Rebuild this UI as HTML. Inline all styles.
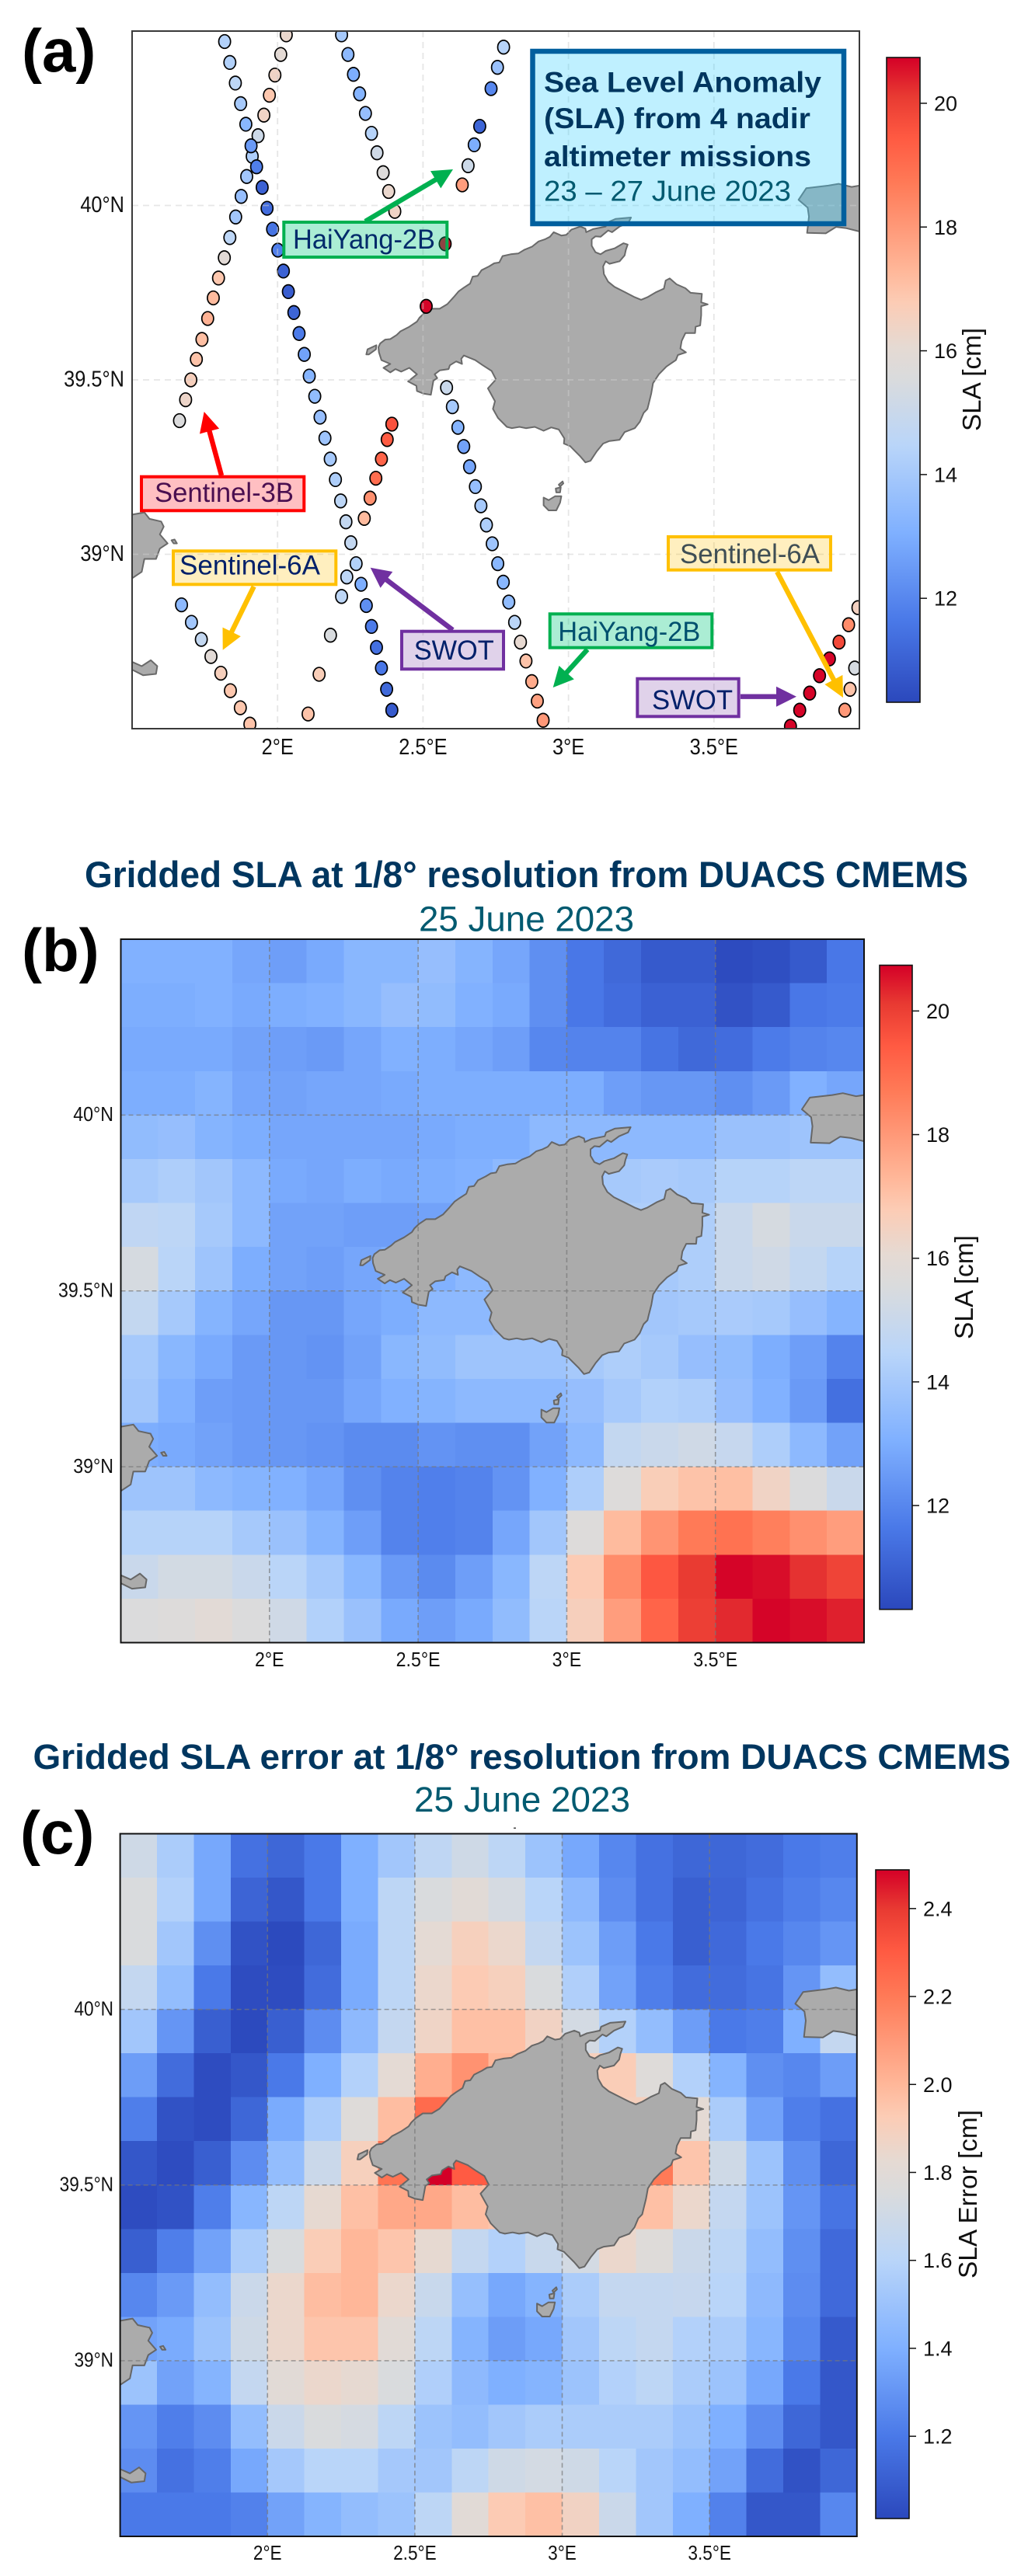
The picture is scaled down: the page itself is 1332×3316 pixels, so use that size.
<!DOCTYPE html>
<html lang="en">
<head>
<meta charset="utf-8">
<title>Sea Level Anomaly panels</title>
<style>
html,body{margin:0;padding:0;background:#fff;}
svg{display:block;font-family:"Liberation Sans",Arial,sans-serif;}
</style>
</head>
<body>
<svg id="figure" xmlns="http://www.w3.org/2000/svg" width="1332" height="3316" viewBox="0 0 1332 3316">
  <defs>
    <clipPath id="clip-a"><rect x="170" y="40" width="936" height="898"/></clipPath>
    <clipPath id="clip-b"><rect x="155.5" y="1209" width="956.5" height="905.5"/></clipPath>
    <clipPath id="clip-c"><rect x="154.6" y="2360.5" width="948.2" height="904.5"/></clipPath>
    <linearGradient id="cbar-gradient" x1="0" y1="1" x2="0" y2="0"></linearGradient>
  </defs>

  <text x="28" y="92" font-size="78" font-weight="bold" fill="#000">(a)</text>
  <text x="28" y="1250" font-size="78" font-weight="bold" fill="#000">(b)</text>
  <text x="26" y="2386" font-size="78" font-weight="bold" fill="#000">(c)</text>

  <text x="109" y="1142" font-size="47" font-weight="bold" fill="#00365f" textLength="1137" lengthAdjust="spacingAndGlyphs">Gridded SLA at 1/8° resolution from DUACS CMEMS</text>
  <text x="539" y="1198.5" font-size="45" fill="#005a70" textLength="277" lengthAdjust="spacingAndGlyphs">25 June 2023</text>
  <text x="42.5" y="2277" font-size="45" font-weight="bold" fill="#00365f" textLength="1258" lengthAdjust="spacingAndGlyphs">Gridded SLA error at 1/8° resolution from DUACS CMEMS</text>
  <text x="533" y="2332" font-size="45" fill="#005a70" textLength="278" lengthAdjust="spacingAndGlyphs">25 June 2023</text>
  <rect x="661" y="2352.5" width="3" height="1.5" fill="#444"/>

  <g id="panel-a"></g>
  <g id="panel-b"></g>
  <g id="panel-c"></g>

  <g id="annotations">
    <g id="arrows"></g>

    <rect x="685.5" y="66" width="400.5" height="222" fill="rgba(55,208,255,0.32)" stroke="#005f9e" stroke-width="6.5"/>
    <text x="700" y="118.3" font-size="37" font-weight="bold" fill="#00365f" textLength="357" lengthAdjust="spacingAndGlyphs">Sea Level Anomaly</text>
    <text x="700" y="165" font-size="37" font-weight="bold" fill="#00365f" textLength="343" lengthAdjust="spacingAndGlyphs">(SLA) from 4 nadir</text>
    <text x="700" y="214" font-size="37" font-weight="bold" fill="#00365f" textLength="344" lengthAdjust="spacingAndGlyphs">altimeter missions</text>
    <text x="700" y="258.3" font-size="37" fill="#005a70" textLength="318" lengthAdjust="spacingAndGlyphs">23 – 27 June 2023</text>

    <rect x="365.3" y="286" width="210" height="45" fill="rgba(0,200,124,0.33)" stroke="#00b050" stroke-width="4"/>
    <text x="377" y="320" font-size="35" fill="#002a6a" textLength="183" lengthAdjust="spacingAndGlyphs">HaiYang-2B</text>

    <rect x="182" y="613.7" width="209.3" height="43.6" fill="rgba(255,0,10,0.25)" stroke="#ff0000" stroke-width="4"/>
    <text x="199" y="646" font-size="35" fill="#4a0f50" textLength="179" lengthAdjust="spacingAndGlyphs">Sentinel-3B</text>

    <rect x="223" y="709.3" width="209.3" height="43" fill="rgba(255,192,0,0.25)" stroke="#ffc000" stroke-width="4"/>
    <text x="231" y="739.3" font-size="35" fill="#00206a" textLength="181" lengthAdjust="spacingAndGlyphs">Sentinel-6A</text>

    <rect x="517" y="812.7" width="131" height="48.6" fill="rgba(112,48,160,0.22)" stroke="#7030a0" stroke-width="4"/>
    <text x="532.7" y="849" font-size="35" fill="#00206a" textLength="103" lengthAdjust="spacingAndGlyphs">SWOT</text>

    <rect x="860" y="691" width="209" height="42.7" fill="rgba(255,192,0,0.25)" stroke="#ffc000" stroke-width="4"/>
    <text x="875" y="725" font-size="35" fill="#3f4e55" textLength="180" lengthAdjust="spacingAndGlyphs">Sentinel-6A</text>

    <rect x="707.7" y="790.3" width="208.6" height="43.4" fill="rgba(0,200,124,0.33)" stroke="#00b050" stroke-width="4"/>
    <text x="718.3" y="825" font-size="35" fill="#00506e" textLength="183" lengthAdjust="spacingAndGlyphs">HaiYang-2B</text>

    <rect x="820.3" y="873.7" width="130.4" height="48.6" fill="rgba(112,48,160,0.22)" stroke="#7030a0" stroke-width="4"/>
    <text x="839" y="913" font-size="35" fill="#00206a" textLength="104" lengthAdjust="spacingAndGlyphs">SWOT</text>
  </g>
</svg>

<script>
// ---------- Tick labels ----------
const lonTicks = [2, 2.5, 3, 3.5];
const lonLabels = ['2°E', '2.5°E', '3°E', '3.5°E'];
const latTicks = [39, 39.5, 40];
const latLabels = ['39°N', '39.5°N', '40°N'];
const slaTicks = [12, 14, 16, 18, 20];
const slaTickLabels = ['12', '14', '16', '18', '20'];
const errTicks = [1.2, 1.4, 1.6, 1.8, 2.0, 2.2, 2.4];
const errTickLabels = ['1.2', '1.4', '1.6', '1.8', '2.0', '2.2', '2.4'];
const slaRange = [10.32, 20.74];
const errRange = [1.013, 2.488];

// ---------- Along-track SLA (panel a) ----------
const trackBLon = [1.663,1.684,1.702,1.721,1.740,1.760,1.779,1.797,1.817,1.836,1.856,1.875,1.894,1.913,1.933,1.953,1.972,1.991,2.011,2.030];
const trackBLat = [39.383,39.443,39.500,39.559,39.616,39.676,39.735,39.792,39.850,39.908,39.967,40.026,40.083,40.141,40.200,40.259,40.316,40.374,40.433,40.489];
const trackBSla = [15.6,16.3,16.6,17.0,17.1,17.4,17.2,16.9,15.9,14.6,13.9,13.6,13.9,14.2,15.1,16.4,16.9,16.4,16.0,16.2];

const trackALon = [1.818,1.836,1.855,1.873,1.891,1.909,1.928,1.947,1.964,1.983,2.001,2.020,2.037,2.056,2.074,2.092,2.109,2.128,2.146,2.163,2.181,2.199,2.217,2.235,2.252,2.270,2.287,2.305,2.323,2.340,2.357,2.375,2.393];
const trackALat = [40.470,40.410,40.351,40.292,40.233,40.171,40.111,40.052,39.992,39.932,39.872,39.812,39.753,39.693,39.633,39.573,39.511,39.453,39.393,39.333,39.273,39.214,39.153,39.093,39.033,38.973,38.914,38.853,38.793,38.733,38.674,38.613,38.553];
const trackASla = [14.3,14.3,14.6,14.0,13.3,12.5,11.8,11.0,11.3,11.5,11.8,11.0,10.9,11.1,11.7,12.7,13.2,13.5,13.6,13.8,14.0,14.2,14.6,14.8,14.8,14.3,13.0,12.2,11.7,11.4,11.6,11.2,10.8];

const trackCLon = [2.220,2.242,2.261,2.282,2.302,2.323,2.342,2.363,2.382,2.403];
const trackCLat = [40.489,40.433,40.376,40.320,40.264,40.207,40.151,40.094,40.040,39.983];
const trackCSla = [14.0,13.4,13.0,13.2,13.6,14.4,15.2,15.7,16.2,16.4];

const trackDLon = [2.777,2.756,2.734,2.695,2.676,2.655,2.635,2.576,2.511,2.393,2.377,2.357,2.338,2.318,2.298,2.238,2.220,2.182,2.143,2.105];
const trackDLat = [40.454,40.396,40.335,40.227,40.174,40.114,40.059,39.890,39.711,39.373,39.329,39.273,39.218,39.161,39.103,38.935,38.879,38.768,38.656,38.542];
const trackDSla = [14.4,13.7,12.0,11.1,13.0,15.1,17.9,20.7,20.7,19.6,19.4,19.2,19.0,18.2,17.2,14.6,14.6,15.5,16.7,17.0];

const trackELon = [2.581,2.601,2.620,2.640,2.660,2.680,2.699,2.718,2.738,2.757,2.776,2.795,2.815,2.835,2.854,2.874,2.893,2.913];
const trackELat = [39.478,39.423,39.364,39.309,39.251,39.194,39.139,39.084,39.030,38.973,38.920,38.863,38.805,38.748,38.694,38.635,38.579,38.524];
const trackESla = [15.0,14.0,13.2,12.7,12.8,13.6,14.0,14.2,13.8,13.3,13.3,13.5,14.5,16.1,17.0,17.6,17.8,18.0];

const trackFLon = [1.670,1.704,1.738,1.771,1.805,1.838,1.872,1.905];
const trackFLat = [38.855,38.805,38.756,38.707,38.659,38.609,38.560,38.513];
const trackFSla = [13.4,13.9,14.8,15.9,16.6,16.9,16.9,17.0];

const trackGLon = [3.763,3.795,3.829,3.863,3.897,3.930,3.963,3.995];
const trackGLat = [38.507,38.553,38.602,38.652,38.700,38.748,38.798,38.847];
const trackGSla = [20.7,20.7,20.7,20.7,20.7,19.8,18.3,16.5];

const trackHLon = [3.984,3.968,3.950];
const trackHLat = [38.674,38.613,38.553];
const trackHSla = [15.4,17.0,18.0];

// ---------- Gridded SLA in cm (panel b), north to south ----------
const griddedSla = [
[13.1,13.1,13.1,12.8,12.6,12.9,13.3,13.3,13.6,13.2,12.8,12.2,11.6,11.2,10.8,10.8,10.4,10.5,10.8,11.6],
[13.0,13.0,13.1,12.9,13.0,13.1,13.3,13.6,13.5,13.1,12.9,12.2,11.6,11.3,11.0,11.0,10.6,10.8,11.6,11.7],
[12.9,12.9,12.9,12.7,12.6,12.5,12.8,13.1,13.0,12.8,12.6,12.0,11.9,11.9,11.5,11.2,11.3,11.7,11.9,12.0],
[13.0,13.0,13.2,12.8,12.7,12.8,12.8,12.9,13.0,13.0,13.0,13.0,13.0,12.6,12.4,12.4,12.2,12.5,13.1,12.8],
[13.5,13.6,13.2,13.0,12.8,12.8,12.8,12.8,12.9,13.0,13.0,13.4,13.4,13.4,13.4,13.4,13.7,13.7,13.8,13.8],
[14.0,14.2,13.9,13.4,12.9,12.8,13.0,12.9,13.0,13.1,13.4,13.4,13.4,14.0,14.1,14.0,14.4,14.4,14.6,14.6],
[14.7,14.6,14.0,13.4,12.7,12.7,12.6,12.6,12.7,13.0,13.2,13.4,13.6,14.2,14.2,14.2,15.0,15.4,15.0,15.0],
[15.4,14.5,13.8,13.0,12.7,12.6,12.8,13.0,13.1,13.4,13.4,13.4,13.6,14.0,14.0,14.2,15.0,15.2,14.8,14.4],
[14.8,14.0,13.2,12.8,12.4,12.4,12.8,13.0,13.4,13.4,13.6,13.7,13.7,13.9,13.9,14.0,14.1,14.0,13.6,13.2],
[14.0,13.3,12.9,12.5,12.4,12.3,12.7,13.3,13.5,13.8,13.8,13.8,14.0,14.2,14.0,13.6,13.5,13.0,12.6,11.9],
[13.9,13.1,12.6,12.5,12.4,12.4,12.8,13.1,13.2,13.4,13.4,13.4,13.6,14.0,14.3,14.2,13.6,13.1,12.5,11.4],
[13.0,12.9,12.7,12.5,12.4,12.3,12.1,12.1,12.3,12.2,12.2,12.7,13.4,14.8,15.0,15.2,14.9,14.2,13.4,12.7],
[13.8,13.8,13.4,13.2,13.1,12.8,12.2,11.9,11.8,11.9,12.3,13.1,14.2,15.7,16.7,17.0,17.1,16.4,15.6,15.0],
[14.4,14.4,14.4,14.0,13.7,13.2,12.6,11.9,11.8,11.9,12.8,13.9,15.7,17.2,18.1,18.7,18.9,18.6,18.2,17.9],
[15.0,15.3,15.3,15.0,14.5,14.0,13.3,12.5,12.1,12.6,13.3,14.6,16.8,18.3,19.5,20.1,20.7,20.6,20.2,19.9],
[15.6,15.7,15.9,15.6,15.2,14.3,13.7,12.9,12.6,12.9,13.5,14.5,16.6,17.9,19.2,20.0,20.3,20.7,20.6,20.4]
];

// ---------- Gridded SLA error in cm (panel c), north to south ----------
const griddedError = [
[1.70,1.55,1.37,1.17,1.13,1.20,1.40,1.52,1.63,1.70,1.62,1.50,1.37,1.25,1.17,1.13,1.13,1.15,1.20,1.22],
[1.75,1.58,1.37,1.12,1.07,1.20,1.40,1.62,1.75,1.80,1.73,1.60,1.45,1.27,1.17,1.10,1.12,1.17,1.22,1.25],
[1.75,1.52,1.28,1.05,1.02,1.13,1.38,1.62,1.82,1.90,1.85,1.65,1.50,1.33,1.20,1.10,1.14,1.20,1.25,1.30],
[1.65,1.47,1.20,1.03,1.03,1.15,1.38,1.62,1.85,1.93,1.90,1.75,1.57,1.35,1.22,1.15,1.15,1.18,1.30,1.47],
[1.52,1.30,1.10,1.02,1.10,1.27,1.45,1.65,1.87,1.97,1.97,1.88,1.72,1.58,1.47,1.33,1.20,1.22,1.40,1.65],
[1.33,1.15,1.03,1.07,1.20,1.40,1.58,1.82,2.03,2.12,2.00,1.95,1.90,1.92,1.78,1.58,1.42,1.28,1.25,1.33],
[1.22,1.05,1.03,1.13,1.38,1.55,1.78,1.98,2.25,2.20,2.00,2.00,1.90,1.90,1.90,1.82,1.55,1.35,1.22,1.17],
[1.07,1.03,1.10,1.27,1.47,1.68,1.90,2.22,2.49,2.30,1.90,1.90,1.90,1.90,2.20,1.95,1.70,1.50,1.28,1.13],
[1.03,1.05,1.22,1.43,1.62,1.83,1.97,2.05,2.05,1.98,1.95,1.90,1.90,1.90,1.97,1.85,1.65,1.50,1.30,1.18],
[1.10,1.22,1.35,1.55,1.75,1.92,2.00,1.95,1.83,1.65,1.58,1.67,1.72,1.85,1.78,1.68,1.62,1.47,1.28,1.14],
[1.25,1.32,1.47,1.68,1.85,1.98,2.00,1.85,1.67,1.48,1.37,1.42,1.55,1.65,1.65,1.66,1.60,1.45,1.27,1.14],
[1.35,1.38,1.50,1.70,1.85,1.95,1.95,1.80,1.62,1.42,1.33,1.37,1.52,1.62,1.65,1.58,1.55,1.43,1.25,1.08],
[1.50,1.35,1.42,1.65,1.80,1.85,1.83,1.75,1.57,1.45,1.40,1.42,1.50,1.58,1.62,1.55,1.50,1.37,1.20,1.07],
[1.30,1.22,1.27,1.47,1.68,1.75,1.73,1.62,1.50,1.47,1.52,1.55,1.55,1.55,1.55,1.50,1.40,1.27,1.13,1.07],
[1.27,1.17,1.22,1.37,1.53,1.60,1.60,1.53,1.52,1.62,1.70,1.72,1.70,1.60,1.52,1.47,1.35,1.15,1.05,1.13],
[1.20,1.20,1.20,1.23,1.35,1.42,1.47,1.50,1.62,1.80,1.93,1.97,1.88,1.68,1.52,1.40,1.23,1.07,1.07,1.25]
];

// ---------- Colormap ----------
const cmapStops = [
  [0,'#2b48bc'],[0.127,'#4a79e8'],[0.262,'#7fb0ff'],[0.398,'#b9d5f9'],[0.5,'#d9dbdd'],
  [0.55,'#e5dad3'],[0.62,'#fcccb5'],[0.669,'#ffb799'],[0.805,'#ff7a57'],[0.875,'#ff5a42'],
  [0.94,'#e83a32'],[1,'#d40027']
];
function hexRgb(h){return [parseInt(h.slice(1,3),16),parseInt(h.slice(3,5),16),parseInt(h.slice(5,7),16)];}
function cmap(t){
  t=Math.max(0,Math.min(1,t));
  for(let i=1;i<cmapStops.length;i++){
    if(t<=cmapStops[i][0]){
      const a=cmapStops[i-1],b=cmapStops[i],f=(t-a[0])/(b[0]-a[0]);
      const ca=hexRgb(a[1]),cb=hexRgb(b[1]);
      return 'rgb('+ca.map((v,k)=>Math.round(v+(cb[k]-v)*f)).join(',')+')';
    }
  }
  return cmapStops[cmapStops.length-1][1];
}
function normalize(v,range){return (v-range[0])/(range[1]-range[0]);}

// ---------- Coastlines ----------
const mallorcaTrace=[[88,570],[95,555],[115,540],[135,538],[160,522],[175,508],[210,490],[240,470],[250,455],[268,438],[295,420],[330,420],[360,402],[385,375],[405,352],[425,338],[450,322],[460,295],[480,292],[495,270],[525,255],[545,243],[565,240],[578,215],[610,208],[640,205],[665,190],[695,178],[720,158],[745,150],[765,140],[780,122],[810,135],[830,132],[850,112],[885,100],[905,108],[908,122],[935,110],[985,100],[990,85],[1025,70],[1050,68],[1085,65],[1075,85],[1040,100],[1010,122],[995,115],[965,140],[945,138],[930,150],[930,175],[945,200],[965,208],[985,195],[1020,185],[1055,165],[1072,170],[1065,190],[1060,212],[1040,235],[1000,245],[985,235],[975,255],[978,285],[995,315],[1020,335],[1060,355],[1100,375],[1125,385],[1150,375],[1185,355],[1215,342],[1222,310],[1238,302],[1265,325],[1300,340],[1320,358],[1365,362],[1362,395],[1388,403],[1362,410],[1362,445],[1358,485],[1340,490],[1338,515],[1300,515],[1285,545],[1280,575],[1302,590],[1270,600],[1262,620],[1225,645],[1195,675],[1172,710],[1165,750],[1155,790],[1150,810],[1135,825],[1120,860],[1100,885],[1060,900],[1040,930],[1000,935],[975,945],[950,975],[925,1012],[905,1018],[885,995],[860,970],[845,955],[820,945],[822,925],[800,890],[770,882],[740,895],[705,880],[670,885],[645,880],[615,885],[595,880],[560,845],[540,810],[548,780],[520,730],[552,695],[535,662],[500,640],[470,620],[425,602],[415,615],[418,635],[395,625],[370,640],[365,655],[330,660],[310,675],[320,690],[305,700],[295,755],[265,750],[240,740],[238,720],[205,703],[240,675],[210,650],[178,665],[155,655],[135,668],[108,650],[135,635],[100,620],[90,590]];
const dragoneraTrace=[[40,598],[45,578],[80,562],[78,578],[50,598]];
const cabreraTrace=[[740,1155],[760,1165],[785,1150],[810,1150],[805,1175],[790,1205],[760,1205],[740,1185]];
const cabreraIsletTrace=[[788,1120],[808,1115],[805,1135],[790,1135]];
const cabreraIslet2Trace=[[800,1105],[815,1092],[818,1100],[805,1112]];
const ibizaTrace=[[50,550],[105,540],[125,565],[170,575],[180,595],[165,625],[195,660],[165,680],[150,720],[105,720],[95,770],[50,800]];
const formenteraTrace=[[50,1115],[95,1135],[130,1112],[155,1135],[150,1165],[100,1170],[50,1145]];
const ibizaIsletTrace=[[210,648],[222,645],[231,660],[218,660]];
const menorcaTrace=[[1135,680],[1165,635],[1250,625],[1290,618],[1340,630],[1400,620],[1400,810],[1320,790],[1280,785],[1240,810],[1168,808],[1175,745],[1170,710]];

function fromMallorcaCrop(p){return [2.2701+p[0]/1148.4,40.01326-p[1]/1357.8];}
function fromWestCrop(p){return [1.4488+p[0]/1125,39.52-p[1]/1350];}
function fromEastCrop(p){return [2.7821+p[0]/1125,40.52-p[1]/1350];}
const landShapes=[
  {name:'mallorca-land',pts:mallorcaTrace.map(fromMallorcaCrop)},
  {name:'dragonera-land',pts:dragoneraTrace.map(fromMallorcaCrop)},
  {name:'cabrera-land',pts:cabreraTrace.map(fromMallorcaCrop)},
  {name:'cabrera-islet-land',pts:cabreraIsletTrace.map(fromMallorcaCrop)},
  {name:'cabrera-islet-land',pts:cabreraIslet2Trace.map(fromMallorcaCrop)},
  {name:'ibiza-land',pts:ibizaTrace.map(fromWestCrop)},
  {name:'formentera-land',pts:formenteraTrace.map(fromWestCrop)},
  {name:'ibiza-islet-land',pts:ibizaIsletTrace.map(fromWestCrop)},
  {name:'menorca-land',pts:menorcaTrace.map(fromEastCrop)}
];

// ---------- Helpers ----------
const NS='http://www.w3.org/2000/svg';
function make(tag,attrs,parent){
  const el=document.createElementNS(NS,tag);
  for(const k in attrs){el.setAttribute(k,attrs[k]);}
  parent.appendChild(el);
  return el;
}
function makeAxes(p){
  p.x=lon=>p.l+(lon-1.5)*(p.r-p.l)/2.5;
  p.y=lat=>p.t+(40.5-lat)*(p.b-p.t)/2;
  return p;
}
function drawLand(p,parent,stroke){
  landShapes.forEach(s=>{
    const el=make('polygon',{points:s.pts.map(c=>p.x(c[0]).toFixed(1)+','+p.y(c[1]).toFixed(1)).join(' '),fill:'#ababab',stroke:stroke,'stroke-width':2,'stroke-linejoin':'round'},parent);
    
    
  });
}
function drawGrid(p,parent,color,width,dash){
  lonTicks.forEach(v=>{
    const el=make('line',{x1:p.x(v),x2:p.x(v),y1:p.t,y2:p.b,stroke:color,'stroke-width':width,'stroke-dasharray':dash},parent);
    
    
  });
  latTicks.forEach(v=>{
    const el=make('line',{x1:p.l,x2:p.r,y1:p.y(v),y2:p.y(v),stroke:color,'stroke-width':width,'stroke-dasharray':dash},parent);
    
    
  });
}
function drawAxisLabels(p,parent){
  lonTicks.forEach((v,i)=>{
    const el=make('text',{transform:'translate('+p.x(v)+','+p.xLabelY+') scale('+p.sx+',1)','text-anchor':'middle','font-size':p.tickFont,fill:'#111'},parent);
    el.textContent=lonLabels[i];
    
    
  });
  latTicks.forEach((v,i)=>{
    const el=make('text',{transform:'translate('+p.yLabelX+','+(p.y(v)+p.tickFont*0.3)+') scale('+p.sx+',1)','text-anchor':'end','font-size':p.tickFont,fill:'#111'},parent);
    el.textContent=latLabels[i];
    
    
  });
}
function drawFrame(p,parent,color){
  const el=make('rect',{x:p.l,y:p.t,width:p.r-p.l,height:p.b-p.t,fill:'none',stroke:color,'stroke-width':2},parent);
  
  
}
function drawColorbar(cb,parent){
  const bar=make('rect',{x:cb.x0,y:cb.top,width:cb.x1-cb.x0,height:cb.bottom-cb.top,fill:'url(#cbar-gradient)',stroke:'#111','stroke-width':1.6},parent);
  
  
  const yOf=v=>cb.bottom-(v-cb.range[0])/(cb.range[1]-cb.range[0])*(cb.bottom-cb.top);
  cb.ticks.forEach((v,i)=>{
    const y=yOf(v);
    const tick=make('line',{x1:cb.x1,x2:cb.x1+9,y1:y,y2:y,stroke:'#111','stroke-width':1.5},parent);
    
    
    const label=make('text',{x:cb.x1+18,y:y+9.5,'font-size':27,fill:'#111'},parent);
    label.textContent=cb.labels[i];
    
    
  });
  const title=make('text',{transform:'translate('+cb.titleX+','+cb.titleY+') rotate(-90)','text-anchor':'middle','font-size':33,fill:'#111',textLength:cb.titleLen,lengthAdjust:'spacingAndGlyphs'},parent);
  title.textContent=cb.title;
  
  
}
function drawHeat(p,values,range,parent){
  const rows=values.length,cols=values[0].length;
  const w=(p.r-p.l)/cols,h=(p.b-p.t)/rows;
  values.forEach((row,r)=>{
    row.forEach((v,c)=>{
      const el=make('rect',{x:(p.l+c*w).toFixed(2),y:(p.t+r*h).toFixed(2),width:(w+0.4).toFixed(2),height:(h+0.4).toFixed(2),fill:cmap(normalize(v,range))},parent);
      
      
    });
  });
}

// gradient stops shared by the colorbars
const gradient=document.getElementById('cbar-gradient');
cmapStops.forEach(s=>{
  const stop=make('stop',{offset:s[0],'stop-color':s[1]},gradient);
  
  
});

// ---------- Panel a ----------
const pa=makeAxes({l:170,r:1106,t:40,b:938,xLabelY:971,yLabelX:160,tickFont:29,sx:0.875});
const gA=document.getElementById('panel-a');
const landA=make('g',{'clip-path':'url(#clip-a)'},gA);


drawLand(pa,landA,'#6a6a6a');
const dotsA=make('g',{'clip-path':'url(#clip-a)'},gA);


function drawTrack(lons,lats,vals,parent){
  lons.forEach((lon,i)=>{
    const el=make('ellipse',{cx:pa.x(lon).toFixed(1),cy:pa.y(lats[i]).toFixed(1),rx:7.6,ry:8.8,fill:cmap(normalize(vals[i],slaRange)),stroke:'#000','stroke-width':1.7},parent);
    
    
  });
}
drawTrack(trackBLon,trackBLat,trackBSla,dotsA);
drawTrack(trackCLon,trackCLat,trackCSla,dotsA);
drawTrack(trackDLon,trackDLat,trackDSla,dotsA);
drawTrack(trackALon,trackALat,trackASla,dotsA);
drawTrack(trackELon,trackELat,trackESla,dotsA);
drawTrack(trackFLon,trackFLat,trackFSla,dotsA);
drawTrack(trackHLon,trackHLat,trackHSla,dotsA);
drawTrack(trackGLon,trackGLat,trackGSla,dotsA);
drawGrid(pa,gA,'rgba(205,205,205,0.5)',1.8,'8 6');
drawFrame(pa,gA,'#3a3a3a');
drawAxisLabels(pa,gA);
drawColorbar({x0:1141,x1:1184,top:74,bottom:904,range:slaRange,ticks:slaTicks,labels:slaTickLabels,title:'SLA [cm]',titleX:1262,titleY:488.5,titleLen:133},gA);

// ---------- Panel b ----------
const pb=makeAxes({l:155.5,r:1112,t:1209,b:2114.5,xLabelY:2145,yLabelX:146,tickFont:26,sx:0.89});
const gB=document.getElementById('panel-b');
const heatB=make('g',{'shape-rendering':'crispEdges'},gB);


drawHeat(pb,griddedSla,slaRange,heatB);
const landB=make('g',{'clip-path':'url(#clip-b)'},gB);


drawLand(pb,landB,'#666');
drawGrid(pb,gB,'rgba(120,120,120,0.7)',1.6,'6 4');
drawFrame(pb,gB,'#111');
drawAxisLabels(pb,gB);
drawColorbar({x0:1132,x1:1174,top:1242.5,bottom:2071.7,range:slaRange,ticks:slaTicks,labels:slaTickLabels,title:'SLA [cm]',titleX:1252,titleY:1657,titleLen:134},gB);

// ---------- Panel c ----------
const pc=makeAxes({l:154.6,r:1102.8,t:2360.5,b:3265,xLabelY:3295,yLabelX:146,tickFont:26,sx:0.87});
const gC=document.getElementById('panel-c');
const heatC=make('g',{'shape-rendering':'crispEdges'},gC);


drawHeat(pc,griddedError,errRange,heatC);
const landC=make('g',{'clip-path':'url(#clip-c)'},gC);


drawLand(pc,landC,'#666');
drawGrid(pc,gC,'rgba(120,120,120,0.7)',1.6,'6 4');
drawFrame(pc,gC,'#111');
drawAxisLabels(pc,gC);
drawColorbar({x0:1127,x1:1170,top:2407,bottom:3242,range:errRange,ticks:errTicks,labels:errTickLabels,title:'SLA Error [cm]',titleX:1257,titleY:2824.5,titleLen:217},gC);

// ---------- Annotation arrows (panel a) ----------
const arrowGroup=document.getElementById('arrows');
function drawArrow(x1,y1,x2,y2,color,name){
  const d=Math.hypot(x2-x1,y2-y1),ux=(x2-x1)/d,uy=(y2-y1)/d,nx=-uy,ny=ux;
  const hl=26,hw=13,sw=3.2,bx=x2-ux*hl,by=y2-uy*hl;
  const pts=[[x1+nx*sw,y1+ny*sw],[bx+nx*sw,by+ny*sw],[bx+nx*hw,by+ny*hw],[x2,y2],[bx-nx*hw,by-ny*hw],[bx-nx*sw,by-ny*sw],[x1-nx*sw,y1-ny*sw]];
  const el=make('polygon',{points:pts.map(q=>q[0].toFixed(1)+','+q[1].toFixed(1)).join(' '),fill:color},arrowGroup);
  
  
}
drawArrow(470,285,583,218,'#00b050','haiyang-arrow-top');
drawArrow(285,612,262.7,530,'#ff0000','sentinel-3b-arrow');
drawArrow(326.7,755,286.7,836.7,'#ffc000','sentinel-6a-arrow-left');
drawArrow(582.7,811,476.7,730.7,'#7030a0','swot-arrow-left');
drawArrow(1000,736,1085,898,'#ffc000','sentinel-6a-arrow-right');
drawArrow(756,836,711.7,885,'#00b050','haiyang-arrow-bottom');
drawArrow(953,896.7,1025,896.7,'#7030a0','swot-arrow-right');
</script>
</body>
</html>
